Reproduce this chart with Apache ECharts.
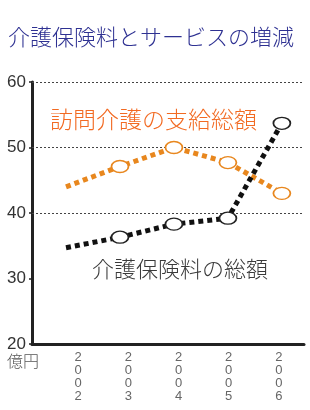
<!DOCTYPE html>
<html><head><meta charset="utf-8">
<script src="https://cdn.jsdelivr.net/npm/echarts@6/dist/echarts.min.js"></script>
<style>html,body{margin:0;padding:0;background:#fff}#c{width:310px;height:410px}</style>
</head><body><div id="c"></div>
<script>
var years = ['2002','2003','2004','2005','2006'];
var homeCare = [44.0, 47.1, 50.0, 47.7, 43.0];      // 訪問介護の支給総額
var premium = [34.7, 36.3, 38.3, 39.2, 53.7];       // 介護保険料の総額
var yTicks = [20, 30, 40, 50, 60];
var gridValues = [40, 50, 60];

var CJK = '"Noto Sans CJK JP","Noto Sans CJK SC",sans-serif';
function toPts(vals){
  return vals.map(function(v,i){
    var item = {value:[+years[i], v]};
    if(i===0) item.symbol = 'none';
    return item;
  });
}
var chart = echarts.init(document.getElementById('c'), null, {renderer:'canvas'});
chart.setOption({
  animation:false,
  backgroundColor:'#fff',
  grid:[
    {left:32, right:6, top:82, bottom:66, containLabel:false},
    {left:53, right:6, top:82, bottom:66, containLabel:false}
  ],
  xAxis:[
    {type:'value', gridIndex:0, min:2001.37, max:2006.41,
     axisLine:{show:true, onZero:false, lineStyle:{color:'#222', width:3}},
     axisTick:{show:false}, axisLabel:{show:false}, splitLine:{show:false}},
    {type:'category', gridIndex:1, data:years, boundaryGap:true,
     axisLine:{show:false}, axisTick:{show:false}, splitLine:{show:false},
     axisLabel:{margin:7, fontSize:13, lineHeight:13, color:'#666',
       fontFamily:'"Liberation Sans",Arial,sans-serif',
       formatter:function(v){return v.split('').join('\n');}}}
  ],
  yAxis:[
    {type:'value', gridIndex:0, min:yTicks[0], max:yTicks[yTicks.length-1], interval:10,
     axisLine:{show:true, lineStyle:{color:'#222', width:3}},
     axisTick:{show:true, length:3, lineStyle:{color:'#222', width:1.5}},
     splitLine:{show:false},
     axisLabel:{margin:6, fontSize:17, color:'#333',
       fontFamily:'"Liberation Sans Narrow","Liberation Sans",Arial,sans-serif'}},
    {type:'value', gridIndex:1, min:20, max:60, show:false}
  ],
  series:[
    {type:'line', xAxisIndex:0, yAxisIndex:0, data:toPts(homeCare), z:3,
     symbol:'circle', symbolSize:[17,12], showSymbol:true,
     lineStyle:{color:'#e8871e', width:5, type:[5,4], cap:'butt'},
     itemStyle:{color:'#fff', borderColor:'#e8871e', borderWidth:1.5},
     markLine:{silent:true, symbol:['none','none'], label:{show:false}, z:1,
       lineStyle:{color:'#444', width:1, type:[2,2]},
       data:gridValues.map(function(v){return {yAxis:v};})}},
    {type:'line', xAxisIndex:0, yAxisIndex:0, data:toPts(premium), z:4,
     symbol:'circle', symbolSize:[17,12], showSymbol:true,
     lineStyle:{color:'#111', width:5, type:[5,4], cap:'butt'},
     itemStyle:{color:'#fff', borderColor:'#222', borderWidth:1.5}}
  ],
  graphic:[
    {type:'text', style:{x:8, y:37, text:'介護保険料とサービスの増減', font:'300 22px '+CJK, fill:'#2e3192', textVerticalAlign:'middle'}},
    {type:'text', style:{x:50, y:119, text:'訪問介護の支給総額', font:'300 23px '+CJK, fill:'#f26a22', textVerticalAlign:'middle'}},
    {type:'text', style:{x:92, y:269, text:'介護保険料の総額', font:'300 22px '+CJK, fill:'#3a3a3a', textVerticalAlign:'middle'}},
    {type:'text', style:{x:7, y:361, text:'億円', font:'300 16px '+CJK, fill:'#555', textVerticalAlign:'middle'}}
  ]
});
</script></body></html>
